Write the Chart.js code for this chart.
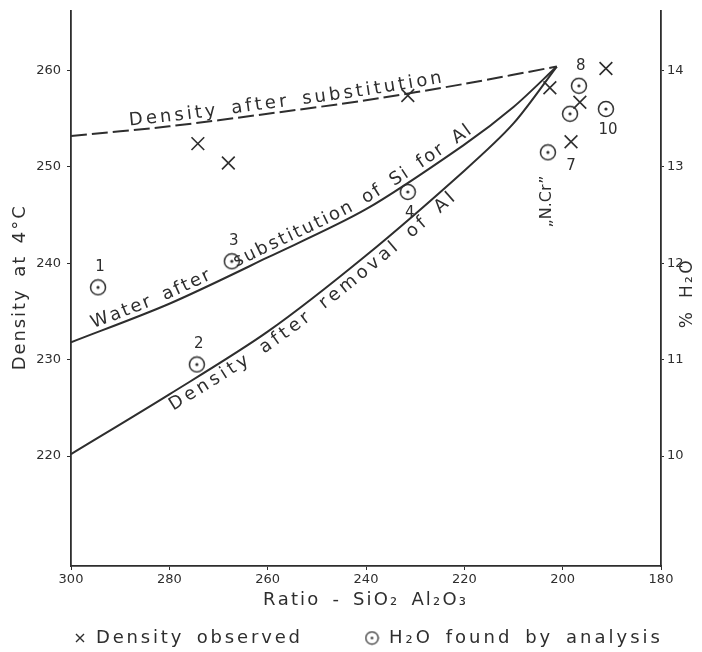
<!DOCTYPE html>
<html>
<head>
<meta charset="utf-8">
<title>Density and water content against SiO2 / Al2O3 ratio</title>
<script src="https://cdn.jsdelivr.net/npm/chart.js@4.4.1/dist/chart.umd.min.js"></script>
<style>
    html, body { margin: 0; padding: 0; background: #fff; }
    #chart { display: block; }
</style>
</head>
<body>
<canvas id="chart" width="702" height="652"></canvas>
<script>
// values
const ratioTicks = [300, 280, 260, 240, 220, 200, 180];
const densityTicks = [220, 230, 240, 250, 260];
const waterTicks = [10, 11, 12, 13, 14];

// dashed curve: density after substitution
const substRatio = [300, 280, 260, 240, 220, 201.2];
const substDensity = [253.2, 254.2, 255.5, 256.9, 258.6, 260.4];

// water after substitution of Si for Al
const waterRatio = [300, 280, 260, 240, 220, 210, 201.2];
const waterDensity = [231.8, 235.8, 240.6, 245.6, 252.3, 256.2, 260.4];

// density after removal of Al
const removalRatio = [300, 280, 260, 240, 220, 210, 201.2];
const removalDensity = [220.2, 226.4, 232.9, 240.8, 249.6, 254.5, 260.4];

// x  density observed (left axis)
const obsRatio = [274.2, 268.0, 231.5, 202.6, 196.5, 198.3, 191.2];
const obsDensity = [252.4, 250.4, 257.4, 258.2, 256.7, 252.6, 260.2];
const obsNotes = ["", "", "", "", "", "7", ""];

// (.) H2O found by analysis (right axis, % H2O)
const h2oRatio = [294.5, 274.4, 267.3, 231.5, 203.0, 198.5, 196.7, 191.2];
const h2oPercent = [11.75, 10.95, 12.02, 12.74, 13.15, 13.55, 13.84, 13.60];
const h2oNotes = ["1", "2", "3", "4", "", "", "8", "10"];

// axis limits
const densityMin = 208.6, densityMax = 266.2;
const waterMin = 8.86, waterMax = 14.62;

const ink = "#2e2e2e";
const family = "DejaVu Sans";
const notesBelow = new Set(["4", "7", "10"]);

// wideAt: index of a space left wider, where a marker sits in the lettering
const captions = [
    {dataset: 0, text: "Density after substitution", from: 288, to: 224.3, offset: 5},
    {dataset: 1, text: "Water after substitution of Si for Al", from: 295.1, to: 217.8, offset: 5, wideAt: 11, extra: 14},
    {dataset: 2, text: "Density after removal of Al", from: 280.9, to: 223.9, offset: -16}
];
const nCr = {text: "\u201EN.Cr\u201D", ratio: 203.2, density: 246.4};

function pairs(xs, ys) { return xs.map((v, i) => ({x: v, y: ys[i]})); }

function ringDot(size, lw, dot) {
    const c = document.createElement("canvas");
    c.width = c.height = size;
    const g = c.getContext("2d");
    g.strokeStyle = ink; g.fillStyle = ink; g.lineWidth = lw;
    g.beginPath(); g.arc(size / 2, size / 2, size / 2 - lw, 0, Math.PI * 2); g.stroke();
    g.beginPath(); g.arc(size / 2, size / 2, dot, 0, Math.PI * 2); g.fill();
    return c;
}
const ring = ringDot(18, 1.5, 1.6);
const smallRing = ringDot(15, 1.3, 1.3);

// sample the bezier the library drew for a line dataset
function samplePath(chart, index) {
    const pts = chart.getDatasetMeta(index).data;
    const out = [];
    for (let k = 0; k < pts.length - 1; k++) {
        const a = pts[k], b = pts[k + 1];
        const c1x = a.cp2x ?? a.x, c1y = a.cp2y ?? a.y, c2x = b.cp1x ?? b.x, c2y = b.cp1y ?? b.y;
        for (let s = 0; s < 24; s++) {
            const t = s / 24, u = 1 - t;
            out.push({
                x: u * u * u * a.x + 3 * u * u * t * c1x + 3 * u * t * t * c2x + t * t * t * b.x,
                y: u * u * u * a.y + 3 * u * u * t * c1y + 3 * u * t * t * c2y + t * t * t * b.y
            });
        }
    }
    const last = pts[pts.length - 1];
    out.push({x: last.x, y: last.y});
    return out;
}

// letter widths, with the wide word spaces of hand lettering
function charWidths(ctx, chars) {
    return chars.map(ch => ch === " " ? ctx.measureText(ch).width * 1.7 : ctx.measureText(ch).width);
}

function textOnPath(ctx, path, c, x0, x1) {
    const acc = [0];
    for (let i = 1; i < path.length; i++) acc.push(acc[i - 1] + Math.hypot(path[i].x - path[i - 1].x, path[i].y - path[i - 1].y));
    const sAtX = px => {
        for (let i = 1; i < path.length; i++) {
            if (path[i].x >= px) {
                const t = (px - path[i - 1].x) / (path[i].x - path[i - 1].x || 1);
                return acc[i - 1] + t * (acc[i] - acc[i - 1]);
            }
        }
        return acc[acc.length - 1];
    };
    const at = s => {
        let i = 1;
        while (i < path.length - 1 && acc[i] < s) i++;
        const t = (s - acc[i - 1]) / (acc[i] - acc[i - 1] || 1);
        const a = path[i - 1], b = path[i];
        return {x: a.x + t * (b.x - a.x), y: a.y + t * (b.y - a.y), ang: Math.atan2(b.y - a.y, b.x - a.x)};
    };
    const chars = [...c.text];
    const widths = charWidths(ctx, chars);
    if (c.wideAt !== undefined) widths[c.wideAt] += c.extra;
    const s0 = sAtX(x0), s1 = sAtX(x1);
    const gap = (s1 - s0 - widths.reduce((a, b) => a + b, 0)) / (chars.length - 1);
    let s = s0;
    chars.forEach((ch, k) => {
        const p = at(s + widths[k] / 2);
        ctx.save();
        ctx.translate(p.x + Math.sin(p.ang) * c.offset, p.y - Math.cos(p.ang) * c.offset);
        ctx.rotate(p.ang);
        ctx.fillText(ch, 0, 0);
        ctx.restore();
        s += widths[k] + gap;
    });
}

// draws text letter by letter so it spans a given width
function spaced(ctx, text, x0, x1, y) {
    const chars = [...text];
    const widths = charWidths(ctx, chars);
    const gap = (x1 - x0 - widths.reduce((a, b) => a + b, 0)) / (chars.length - 1);
    let x = x0;
    ctx.textAlign = "left";
    chars.forEach((ch, k) => { ctx.fillText(ch, x, y); x += widths[k] + gap; });
}

const annotate = {
    id: "annotate",
    afterDatasetsDraw(chart) {
        const {ctx, chartArea} = chart;
        const {x, y, y2} = chart.scales;
        ctx.save();
        ctx.fillStyle = ink;
        ctx.textBaseline = "alphabetic";
        ctx.textAlign = "center";

        ctx.font = "18px '" + family + "'";
        captions.forEach(c => {
            textOnPath(ctx, samplePath(chart, c.dataset), c, x.getPixelForValue(c.from), x.getPixelForValue(c.to));
        });

        // sample numbers
        ctx.font = "15px '" + family + "'";
        ctx.textBaseline = "middle";
        ctx.textAlign = "center";
        h2oNotes.forEach((t, i) => {
            if (!t) return;
            const dy = notesBelow.has(t) ? 21 : -20;
            ctx.fillText(t, x.getPixelForValue(h2oRatio[i]) + 2, y2.getPixelForValue(h2oPercent[i]) + dy);
        });
        obsNotes.forEach((t, i) => {
            if (!t) return;
            ctx.fillText(t, x.getPixelForValue(obsRatio[i]), y.getPixelForValue(obsDensity[i]) + 24);
        });

        // "N.Cr" label, vertical
        ctx.save();
        ctx.font = "16px '" + family + "'";
        ctx.translate(x.getPixelForValue(nCr.ratio), y.getPixelForValue(nCr.density));
        ctx.rotate(-Math.PI / 2);
        ctx.fillText(nCr.text, 0, 0);
        ctx.restore();

        // axis titles
        ctx.font = "18px '" + family + "'";
        ctx.textBaseline = "middle";
        const midY = (chartArea.top + chartArea.bottom) / 2;
        ctx.save();
        ctx.translate(20, midY);
        ctx.rotate(-Math.PI / 2);
        spaced(ctx, "Density at 4\u00B0C", -82, 82, 0);
        ctx.restore();

        ctx.save();
        ctx.font = "17px '" + family + "'";
        ctx.translate(chartArea.right + 27, midY + 6);
        ctx.rotate(-Math.PI / 2);
        spaced(ctx, "% H\u2082O", -34, 34, 0);
        ctx.restore();

        spaced(ctx, "Ratio - SiO\u2082 Al\u2082O\u2083", 263, 466, chartArea.bottom + 34);

        // legend
        const ly = chartArea.bottom + 72;
        ctx.strokeStyle = ink;
        ctx.lineWidth = 1.4;
        ctx.beginPath();
        ctx.moveTo(76, ly - 4); ctx.lineTo(84, ly + 4);
        ctx.moveTo(84, ly - 4); ctx.lineTo(76, ly + 4);
        ctx.stroke();
        spaced(ctx, chart.data.datasets[3].label, 96, 300, ly);
        ctx.drawImage(smallRing, 372 - 7.5, ly - 7.5);
        spaced(ctx, chart.data.datasets[4].label, 389, 660, ly);
        ctx.restore();
    }
};

function fixedTicks(list) { return s => { s.ticks = list.map(v => ({value: v})); }; }

const tickFont = {family: family, size: 13};

new Chart(document.getElementById("chart"), {
    type: "scatter",
    data: {
        datasets: [
            {type: "line", label: "Density after substitution", data: pairs(substRatio, substDensity), yAxisID: "y",
             borderColor: ink, borderWidth: 2, borderDash: [16, 5], pointRadius: 0, tension: 0.3, fill: false},
            {type: "line", label: "Water after substitution of Si for Al", data: pairs(waterRatio, waterDensity), yAxisID: "y",
             borderColor: ink, borderWidth: 2, pointRadius: 0, tension: 0.3, fill: false},
            {type: "line", label: "Density after removal of Al", data: pairs(removalRatio, removalDensity), yAxisID: "y",
             borderColor: ink, borderWidth: 2, pointRadius: 0, tension: 0.3, fill: false},
            {label: "Density observed", data: pairs(obsRatio, obsDensity), yAxisID: "y",
             pointStyle: "crossRot", pointRadius: 9, borderColor: ink, borderWidth: 1.6},
            {label: "H\u2082O found by analysis", data: pairs(h2oRatio, h2oPercent), yAxisID: "y2",
             pointStyle: ring, pointRadius: 9}
        ]
    },
    options: {
        responsive: false,
        animation: false,
        events: [],
        layout: {padding: {top: 5, left: 0, right: 0, bottom: 40}},
        scales: {
            x: {
                type: "linear", reverse: true, min: 180, max: 300,
                afterBuildTicks: fixedTicks(ratioTicks),
                ticks: {font: tickFont, color: ink, padding: 2, maxRotation: 0},
                grid: {drawOnChartArea: false, tickLength: 4, color: ink},
                border: {color: ink, width: 1.8},
                afterFit: s => { s.height = 46; s.paddingLeft = 0; s.paddingRight = 0; }
            },
            y: {
                position: "left", min: densityMin, max: densityMax,
                afterBuildTicks: fixedTicks(densityTicks),
                ticks: {font: tickFont, color: ink, padding: 6},
                grid: {drawOnChartArea: false, tickLength: 4, color: ink},
                border: {color: ink, width: 1.8},
                afterFit: s => { s.width = 71; s.paddingTop = 0; s.paddingBottom = 0; }
            },
            y2: {
                position: "right", min: waterMin, max: waterMax,
                afterBuildTicks: fixedTicks(waterTicks),
                ticks: {font: tickFont, color: ink, padding: 3},
                grid: {drawOnChartArea: false, tickLength: 3, color: ink},
                border: {color: ink, width: 1.8},
                afterFit: s => { s.width = 41; s.paddingTop = 0; s.paddingBottom = 0; }
            }
        },
        plugins: {legend: {display: false}, tooltip: {enabled: false}}
    },
    plugins: [annotate]
});
</script>
</body>
</html>
